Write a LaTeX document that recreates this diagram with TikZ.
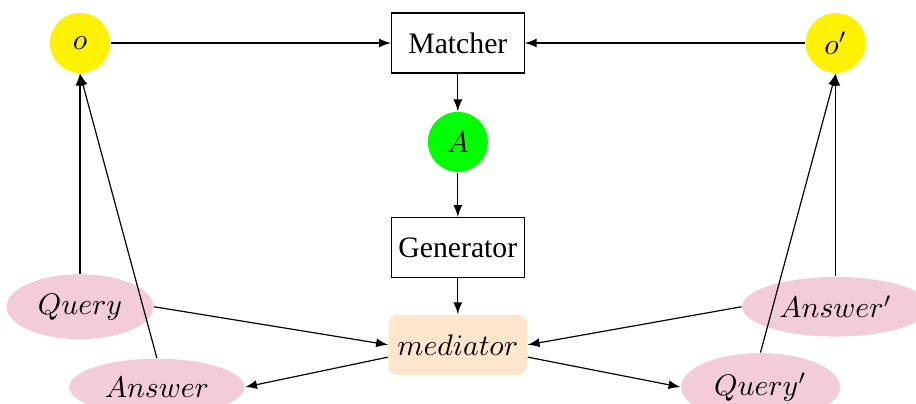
\documentclass[tikz,border=0pt]{standalone}
\usepackage{fontspec}
\setmainfont{Liberation Serif}
\usetikzlibrary{
		positioning,
		arrows.meta,
		shapes.geometric
	}
\tikzset{
		>=latex
	}
\newcommand{\msgfill}{purple!20}

\begin{document}
\begin{tikzpicture}[
		onto/.style={circle, fill=yellow, minimum size=0.71cm, inner sep=0pt},
		proc/.style={draw, inner xsep=2.2pt, minimum width=1.57cm, minimum height=0.71cm},
		msg/.style={ellipse, fill=\msgfill}
	]
		\useasboundingbox (-0.946,-4.26) rectangle (9.89,0.509);
		\node[onto] (o) at (0,0) {$o$};
		\node[proc] (matcher) at (4.47,0) {Matcher};
		\node[onto] (o2) at (8.94,0) {$o'$};
		\node[circle, fill=green, minimum size=0.71cm, inner sep=0pt] (A) at (4.47,-1.17) {$A$};
		\node[proc] (generator) at (4.47,-2.42) {Generator};
		\node[fill=orange!20, rounded corners=3pt, inner xsep=3pt, minimum height=0.71cm] (mediator) at (4.47,-3.57) {$mediator$};
		\node[msg] (query) at (0,-3.12) {$Query$};
		\node[msg] (answer) at (0.91,-4.07) {$Answer$};
		\node[msg] (answer2) at (8.94,-3.12) {$Answer'$};
		\node[msg] (query2) at (8.05,-4.07) {$Query'$};
		% top row and middle column
		\draw[->] (o) -- (matcher);
		\draw[->] (o2) -- (matcher);
		\draw[->] (matcher) -- (A);
		\draw[->] (A) -- (generator);
		\draw[->] (generator) -- (mediator);
		% messages
		\draw[->] (query) -- (o);
		\draw[->] (answer.north) -- (o.south);
		\draw[->] (query2.north) -- (o2.south);
		\draw[->] (answer2) -- (o2);
		\draw[->] (query.east) -- (mediator.west);
		\draw[->] (mediator.190) -- (answer.east);
		\draw[->] (answer2.west) -- (mediator.east);
		\draw[->] (mediator.-10) -- (query2.west);
	\end{tikzpicture}
\end{document}
